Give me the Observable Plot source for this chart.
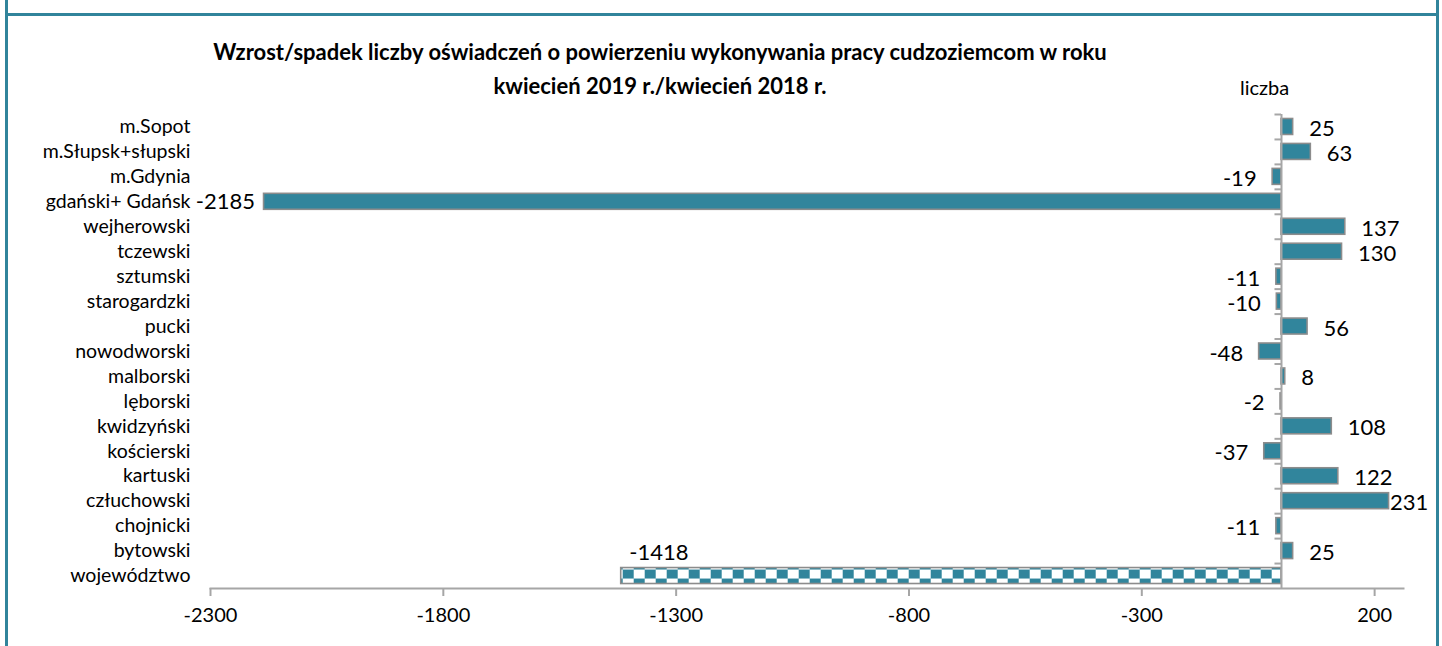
<!DOCTYPE html>
<html>
<head>
<meta charset="utf-8">
<script src="https://cdn.jsdelivr.net/npm/d3@7"></script>
<script src="https://cdn.jsdelivr.net/npm/@observablehq/plot@0.6"></script>
<style>
  html, body { margin: 0; padding: 0; background: #fff; }
  #wrap { position: relative; width: 1442px; height: 646px; overflow: hidden; font-family: Lato, sans-serif; }
  .bl { position: absolute; background: #31849B; }
  #title { position: absolute; left: 110px; width: 1100px; top: 35px; text-align: center; font-weight: bold; font-size: 22px; line-height: 34px; color: #000; }
  #unit { position: absolute; left: 1240px; top: 74px; font-size: 20px; line-height: 26px; color: #000; }
  #chart { position: absolute; left: 0; top: 100px; }
</style>
</head>
<body>
<div id="wrap">
  <div id="title">Wzrost/spadek liczby oświadczeń o powierzeniu wykonywania pracy cudzoziemcom w roku<br>kwiecień 2019 r./kwiecień 2018 r.</div>
  <div id="unit">liczba</div>
  <div id="chart"></div>
  <div class="bl" style="left:5px;top:0;width:3px;height:646px"></div>
  <div class="bl" style="left:1436px;top:0;width:3px;height:646px"></div>
  <div class="bl" style="left:5px;top:13px;width:1434px;height:3px"></div>
</div>
<script>
const categories = ["m.Sopot","m.Słupsk+słupski","m.Gdynia","gdański+ Gdańsk","wejherowski","tczewski","sztumski","starogardzki","pucki","nowodworski","malborski","lęborski","kwidzyński","kościerski","kartuski","człuchowski","chojnicki","bytowski","województwo"];
const values = [25, 63, -19, -2185, 137, 130, -11, -10, 56, -48, 8, -2, 108, -37, 122, 231, -11, 25, -1418];
const xTicks = [-2300, -1800, -1300, -800, -300, 200];
const totalName = "województwo";

const data = categories.map((c, i) => ({cat: c, value: values[i]}));
const regions = data.filter(d => d.cat !== totalName);
const total = data.filter(d => d.cat === totalName);
const special = ["człuchowski", "gdański+ Gdańsk", totalName];
const posLabels = data.filter(d => d.value >= 0 && !special.includes(d.cat));
const negLabels = data.filter(d => d.value < 0 && !special.includes(d.cat));

const H = 546, mT = 14, mB = 58;
const step = (H - mT - mB) / categories.length;
const teal = "#31859C", gray = "#8c8c8c", axisGray = "#a6a6a6";
const fs = 22;

const chart = Plot.plot({
  width: 1442, height: H,
  marginTop: mT, marginBottom: mB, marginLeft: 210, marginRight: 39,
  style: {fontFamily: "Lato, sans-serif", background: "transparent", color: "#000", overflow: "visible"},
  x: {domain: [-2300, 262], label: null},
  y: {domain: categories, paddingInner: 0.36, paddingOuter: 0.18, round: false, label: null},
  marks: [
    Plot.barX(regions, {x: "value", y: "cat", fill: teal, stroke: gray, strokeWidth: 1.6}),
    Plot.barX(total, {x: "value", y: "cat", fill: "url(#checker)", stroke: gray, strokeWidth: 1.6}),
    Plot.frame({anchor: "bottom", stroke: axisGray, strokeWidth: 2}),
    Plot.ruleX([0], {stroke: axisGray, strokeWidth: 2}),
    Plot.ruleY(categories, {y: d => d, x1: -14, x2: 0, dy: -step / 2, stroke: axisGray, strokeWidth: 2}),
    Plot.axisX({ticks: xTicks, tickSize: 8, tickPadding: 11, fontSize: 20, stroke: axisGray, strokeWidth: 2, tickFormat: d => String(d), label: null}),
    Plot.axisY({tickSize: 0, tickPadding: 20, fontSize: 19.5, label: null}),
    Plot.text(posLabels, {x: "value", y: "cat", text: d => String(d.value), textAnchor: "start", dx: 16, dy: 2, fontSize: fs}),
    Plot.text(negLabels, {x: "value", y: "cat", text: d => String(d.value), textAnchor: "end", dx: -16, dy: 2, fontSize: fs}),
    Plot.text(data.filter(d => d.cat === "człuchowski"), {x: "value", y: "cat", text: d => String(d.value), textAnchor: "start", dx: 1, dy: 2, fontSize: fs}),
    Plot.text(data.filter(d => d.cat === "gdański+ Gdańsk"), {x: "value", y: "cat", text: d => String(d.value), textAnchor: "end", dx: -9, dy: 0, fontSize: fs}),
    Plot.text(total, {x: "value", y: "cat", text: d => String(d.value), textAnchor: "start", dx: 8, dy: -23, fontSize: fs})
  ]
});

// checkerboard pattern for the voivodeship total bar
const ns = "http://www.w3.org/2000/svg";
const defs = document.createElementNS(ns, "defs");
const pat = document.createElementNS(ns, "pattern");
pat.setAttribute("id", "checker");
pat.setAttribute("patternUnits", "userSpaceOnUse");
pat.setAttribute("width", "22");
pat.setAttribute("height", "18");
const bg = document.createElementNS(ns, "rect");
bg.setAttribute("width", "22"); bg.setAttribute("height", "18"); bg.setAttribute("fill", "#fff");
pat.appendChild(bg);
[[0, 0], [11, 9]].forEach(([x, y]) => {
  const r = document.createElementNS(ns, "rect");
  r.setAttribute("x", x); r.setAttribute("y", y);
  r.setAttribute("width", "11"); r.setAttribute("height", "9");
  r.setAttribute("fill", teal);
  pat.appendChild(r);
});
defs.appendChild(pat);
chart.insertBefore(defs, chart.firstChild);
document.getElementById("chart").appendChild(chart);
const totalRect = Array.from(chart.querySelectorAll("rect")).find(r => (r.getAttribute("fill") || "").startsWith("url(") || (r.parentNode.getAttribute("fill") || "").startsWith("url("));
if (totalRect) {
  const ry = parseFloat(totalRect.getAttribute("y")) || 0;
  const rx = parseFloat(totalRect.getAttribute("x")) || 0;
  pat.setAttribute("x", rx + 2);
  pat.setAttribute("y", ry + 2);
}
</script>
</body>
</html>
